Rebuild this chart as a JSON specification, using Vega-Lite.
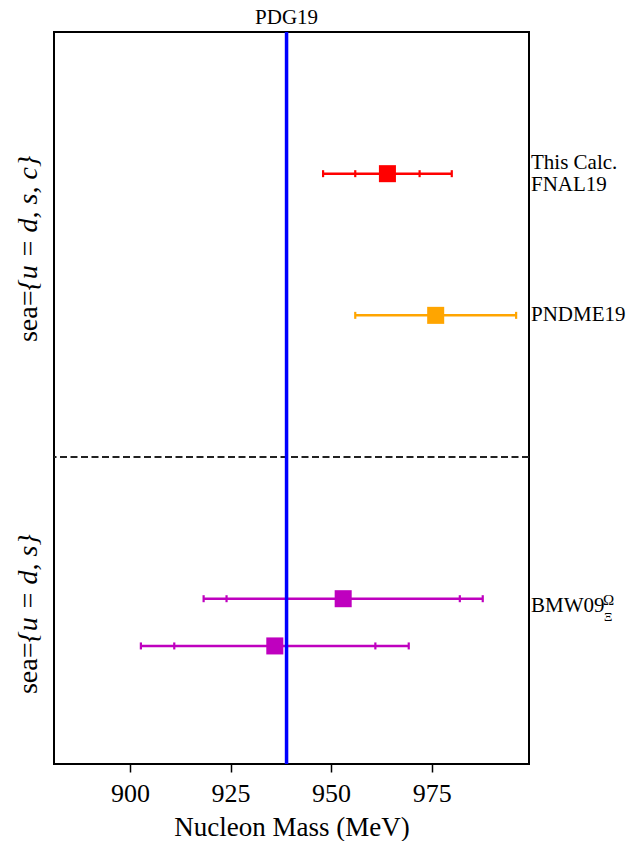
{
  "$schema": "https://vega.github.io/schema/vega-lite/v6.json",
  "width": 475,
  "height": 732,
  "autosize": {"type": "none"},
  "padding": {"left": 54, "top": 32, "right": 109, "bottom": 77},
  "background": "white",
  "config": {
    "view": {"stroke": "black", "strokeWidth": 2},
    "text": {"font": "Liberation Serif", "color": "black"},
    "axisY": {"disable": true}
  },
  "datasets": {
    "results": [
      {"grp": "calc", "mass": 964, "lo_tot": 948, "hi_tot": 980, "lo_stat": 956, "hi_stat": 972, "row": 3},
      {"grp": "pndme", "mass": 976, "lo_tot": 956, "hi_tot": 996, "lo_stat": null, "hi_stat": null, "row": 6},
      {"grp": "bmw", "mass": 953, "lo_tot": 918.3, "hi_tot": 987.7, "lo_stat": 924, "hi_stat": 982, "row": 12},
      {"grp": "bmw", "mass": 936, "lo_tot": 902.7, "hi_tot": 969.3, "lo_stat": 911, "hi_stat": 961, "row": 13}
    ],
    "pdg": [{"name": "PDG19", "mass": 938.92}],
    "boundary": [{"row": 9}],
    "calclabel": [{"label": "This Calc.\nFNAL19", "row": 3}],
    "labels": [
      {"label": "PNDME19", "row": 6},
      {"label": "BMW09", "row": 12.15}
    ],
    "bmwscripts": [{"sup": "Ω", "sub": "Ξ", "row": 12.15}],
    "seaupper": [{"lhs": "sea=", "rhs": "{u  =  d,  s,  c}", "row": 4.5}],
    "sealower": [{"lhs": "sea=", "rhs": "{u  =  d,  s}", "row": 12.25}]
  },
  "layer": [
    {
      "data": {"name": "boundary"},
      "mark": {"type": "rule", "stroke": "#222222", "strokeWidth": 2, "strokeDash": [7, 3.5]},
      "encoding": {
        "y": {"field": "row", "type": "quantitative", "scale": {"domain": [0, 15.5], "reverse": true, "nice": false, "zero": false}}
      }
    },
    {
      "data": {"name": "results"},
      "mark": {"type": "rule", "strokeWidth": 2.5},
      "encoding": {
        "x": {
          "field": "lo_tot", "type": "quantitative",
          "scale": {"domain": [881.1, 999.2], "nice": false, "zero": false},
          "title": "Nucleon Mass (MeV)",
          "axis": {
            "values": [900, 925, 950, 975],
            "grid": false, "domain": false,
            "tickSize": 8, "tickWidth": 1.5, "tickColor": "black",
            "labelFont": "Liberation Serif", "labelFontSize": 26, "labelColor": "black", "labelPadding": 8,
            "titleFont": "Liberation Serif", "titleFontSize": 27, "titleFontWeight": "normal", "titleColor": "black", "titlePadding": 8
          }
        },
        "x2": {"field": "hi_tot"},
        "y": {"field": "row", "type": "quantitative", "scale": {"domain": [0, 15.5], "reverse": true, "nice": false, "zero": false}},
        "color": {"field": "grp", "type": "nominal", "scale": {"domain": ["calc", "pndme", "bmw"], "range": ["#ff0000", "#ffa500", "#bf00bf"]}, "legend": null}
      }
    },
    {
      "data": {"name": "results"},
      "transform": [
        {"fold": ["lo_tot", "hi_tot", "lo_stat", "hi_stat"], "as": ["kind", "edge"]},
        {"filter": "datum.edge != null"}
      ],
      "mark": {"type": "tick", "orient": "vertical", "size": 7, "thickness": 2.2, "opacity": 1},
      "encoding": {
        "x": {"field": "edge", "type": "quantitative", "scale": {"domain": [881.1, 999.2], "nice": false, "zero": false}},
        "y": {"field": "row", "type": "quantitative", "scale": {"domain": [0, 15.5], "reverse": true, "nice": false, "zero": false}},
        "color": {"field": "grp", "type": "nominal", "scale": {"domain": ["calc", "pndme", "bmw"], "range": ["#ff0000", "#ffa500", "#bf00bf"]}, "legend": null}
      }
    },
    {
      "data": {"name": "pdg"},
      "mark": {"type": "rule", "stroke": "#0000ff", "strokeWidth": 3.5},
      "encoding": {
        "x": {"field": "mass", "type": "quantitative", "scale": {"domain": [881.1, 999.2], "nice": false, "zero": false}}
      }
    },
    {
      "data": {"name": "results"},
      "mark": {"type": "point", "shape": "square", "filled": true, "opacity": 1, "size": 290},
      "encoding": {
        "x": {"field": "mass", "type": "quantitative", "scale": {"domain": [881.1, 999.2], "nice": false, "zero": false}},
        "y": {"field": "row", "type": "quantitative", "scale": {"domain": [0, 15.5], "reverse": true, "nice": false, "zero": false}},
        "color": {"field": "grp", "type": "nominal", "scale": {"domain": ["calc", "pndme", "bmw"], "range": ["#ff0000", "#ffa500", "#bf00bf"]}, "legend": null}
      }
    },
    {
      "data": {"name": "pdg"},
      "mark": {"type": "text", "fontSize": 21, "align": "center", "baseline": "alphabetic", "dy": -8, "clip": false},
      "encoding": {
        "x": {"field": "mass", "type": "quantitative", "scale": {"domain": [881.1, 999.2], "nice": false, "zero": false}},
        "y": {"datum": 0, "type": "quantitative", "scale": {"domain": [0, 15.5], "reverse": true, "nice": false, "zero": false}},
        "text": {"field": "name"}
      }
    },
    {
      "data": {"name": "calclabel"},
      "mark": {"type": "text", "fontSize": 21, "align": "left", "baseline": "middle", "dx": 2, "dy": -11, "lineBreak": "\n", "lineHeight": 22, "clip": false},
      "encoding": {
        "x": {"datum": 999.2, "type": "quantitative", "scale": {"domain": [881.1, 999.2], "nice": false, "zero": false}},
        "y": {"field": "row", "type": "quantitative", "scale": {"domain": [0, 15.5], "reverse": true, "nice": false, "zero": false}},
        "text": {"field": "label"}
      }
    },
    {
      "data": {"name": "labels"},
      "mark": {"type": "text", "fontSize": 21, "align": "left", "baseline": "middle", "dx": 2, "clip": false},
      "encoding": {
        "x": {"datum": 999.2, "type": "quantitative", "scale": {"domain": [881.1, 999.2], "nice": false, "zero": false}},
        "y": {"field": "row", "type": "quantitative", "scale": {"domain": [0, 15.5], "reverse": true, "nice": false, "zero": false}},
        "text": {"field": "label"}
      }
    },
    {
      "data": {"name": "bmwscripts"},
      "mark": {"type": "text", "fontSize": 15, "align": "left", "baseline": "middle", "dx": 74, "dy": -6, "clip": false},
      "encoding": {
        "x": {"datum": 999.2, "type": "quantitative", "scale": {"domain": [881.1, 999.2], "nice": false, "zero": false}},
        "y": {"field": "row", "type": "quantitative", "scale": {"domain": [0, 15.5], "reverse": true, "nice": false, "zero": false}},
        "text": {"field": "sup"}
      }
    },
    {
      "data": {"name": "bmwscripts"},
      "mark": {"type": "text", "fontSize": 13, "align": "left", "baseline": "middle", "dx": 75, "dy": 11, "clip": false},
      "encoding": {
        "x": {"datum": 999.2, "type": "quantitative", "scale": {"domain": [881.1, 999.2], "nice": false, "zero": false}},
        "y": {"field": "row", "type": "quantitative", "scale": {"domain": [0, 15.5], "reverse": true, "nice": false, "zero": false}},
        "text": {"field": "sub"}
      }
    },
    {
      "data": {"name": "seaupper"},
      "mark": {"type": "text", "fontSize": 28, "angle": 270, "align": "right", "baseline": "middle", "dx": -46, "dy": -25, "clip": false},
      "encoding": {
        "x": {"datum": 881.1, "type": "quantitative", "scale": {"domain": [881.1, 999.2], "nice": false, "zero": false}},
        "y": {"field": "row", "type": "quantitative", "scale": {"domain": [0, 15.5], "reverse": true, "nice": false, "zero": false}},
        "text": {"field": "lhs"}
      }
    },
    {
      "data": {"name": "seaupper"},
      "mark": {"type": "text", "fontSize": 28, "fontStyle": "italic", "angle": 270, "align": "left", "baseline": "middle", "dx": -46, "dy": -25, "clip": false},
      "encoding": {
        "x": {"datum": 881.1, "type": "quantitative", "scale": {"domain": [881.1, 999.2], "nice": false, "zero": false}},
        "y": {"field": "row", "type": "quantitative", "scale": {"domain": [0, 15.5], "reverse": true, "nice": false, "zero": false}},
        "text": {"field": "rhs"}
      }
    },
    {
      "data": {"name": "sealower"},
      "mark": {"type": "text", "fontSize": 28, "angle": 270, "align": "right", "baseline": "middle", "dx": -32, "dy": -25, "clip": false},
      "encoding": {
        "x": {"datum": 881.1, "type": "quantitative", "scale": {"domain": [881.1, 999.2], "nice": false, "zero": false}},
        "y": {"field": "row", "type": "quantitative", "scale": {"domain": [0, 15.5], "reverse": true, "nice": false, "zero": false}},
        "text": {"field": "lhs"}
      }
    },
    {
      "data": {"name": "sealower"},
      "mark": {"type": "text", "fontSize": 28, "fontStyle": "italic", "angle": 270, "align": "left", "baseline": "middle", "dx": -32, "dy": -25, "clip": false},
      "encoding": {
        "x": {"datum": 881.1, "type": "quantitative", "scale": {"domain": [881.1, 999.2], "nice": false, "zero": false}},
        "y": {"field": "row", "type": "quantitative", "scale": {"domain": [0, 15.5], "reverse": true, "nice": false, "zero": false}},
        "text": {"field": "rhs"}
      }
    }
  ]
}
